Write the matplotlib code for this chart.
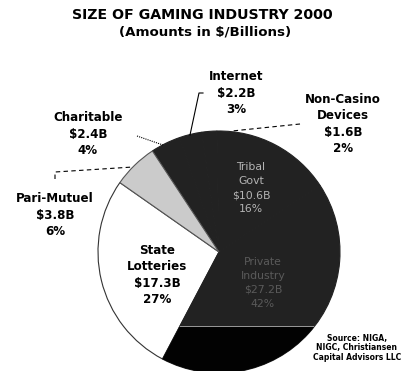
import matplotlib
matplotlib.use("Agg")
import matplotlib.pyplot as plt
from matplotlib.patches import Rectangle

# ---- data ----
categories = ["State\nLotteries", "Private\nIndustry", "Tribal\nGovt",
              "Non-Casino\nDevices", "Internet", "Charitable", "Pari-Mutuel"]
amounts = ["$17.3B", "$27.2B", "$10.6B", "$1.6B", "$2.2B", "$2.4B", "$3.8B"]
percents = [27, 42, 16, 2, 3, 4, 6]

title = "SIZE OF GAMING INDUSTRY 2000"
subtitle = "(Amounts in $/Billions)"
source = "Source: NIGA,\nNIGC, Christiansen\nCapital Advisors LLC"

# ---- style ----
W, H = 402, 371
face = ["#ffffff", "#222222", "#222222", "#222222", "#222222", "#222222", "#cbcbcb"]
edge = ["#333333", "#222222", "#222222", "#222222", "#222222", "#222222", "#555555"]

fig = plt.figure(figsize=(W / 100, H / 100), dpi=100)
ax = fig.add_axes([0, 0, 1, 1])

def Y(y):  # top-down pixel -> data
    return H - y

cx, cy, R = 219, Y(252), 121
wedges, _ = ax.pie(percents, startangle=145, counterclock=True,
                   center=(cx, cy), radius=R, colors=face,
                   wedgeprops=dict(linewidth=0.8), frame=True)
for w, e in zip(wedges, edge):
    w.set_edgecolor(e)
ax.set_xlim(0, W)
ax.set_ylim(0, H)
ax.set_aspect("equal")
ax.axis("off")

# scan artefact: darker bottom band of the private industry wedge
band = Rectangle((0, 0), W, Y(326), facecolor="#020202", edgecolor="none", zorder=3)
ax.add_patch(band)
band.set_clip_path(wedges[1])
line = ax.plot([0, W], [Y(326.5), Y(326.5)], color="#9a9a9a", lw=0.7, zorder=4)[0]
line.set_clip_path(wedges[1])

# ---- titles ----
ax.text(202, Y(15), title, ha="center", va="center", fontsize=10.2,
        fontweight="heavy", family="DejaVu Sans")
ax.text(205, Y(32), subtitle, ha="center", va="center", fontsize=9.6,
        fontweight="heavy", family="DejaVu Sans")

# ---- labels ----
pos = [(157, 275), (263, 283), (251, 188), (343, 124), (236, 93), (88, 134), (55, 215)]
colors = ["black", "#5a5a5a", "#b4b4b4", "black", "black", "black", "black"]
weights = ["bold", "normal", "normal", "bold", "bold", "bold", "bold"]
sizes = [8.6, 7.8, 7.8, 8.6, 8.6, 8.6, 8.6]
spacing = [1.36, 1.5, 1.5, 1.36, 1.36, 1.36, 1.36]
for cat, amt, pct, (x, y), c, fw, fs, ls in zip(categories, amounts, percents, pos,
                                                colors, weights, sizes, spacing):
    ax.text(x, Y(y), f"{cat}\n{amt}\n{pct}%", ha="center", va="center",
            fontsize=fs, fontweight=fw, color=c, linespacing=ls, zorder=5)

# ---- leader lines ----
ax.plot([203, 199, 190], [Y(93), Y(93), Y(135)], color="black", lw=0.8, zorder=5)
ax.plot([137, 163], [Y(136), Y(145)], color="black", lw=0.8, ls=(0, (1, 1)), zorder=5)
ax.plot([55, 55, 133], [Y(179), Y(172), Y(167)], color="black", lw=0.8,
        ls=(0, (4, 3)), zorder=5)
ax.plot([300, 232], [Y(124), Y(131)], color="black", lw=0.8, ls=(0, (4, 3)), zorder=5)

# ---- source ----
ax.text(357, Y(348), source, ha="center", va="center", fontsize=5.5,
        fontweight="bold", linespacing=1.05, zorder=6)

fig.savefig("out.png", dpi=100)
